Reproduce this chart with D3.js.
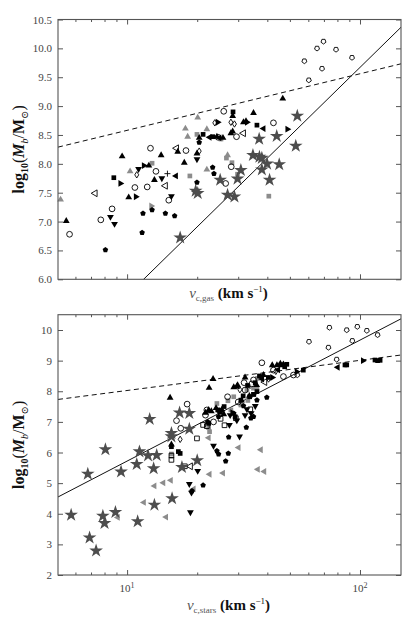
<!DOCTYPE html>
<html lang="en">
<head>
<meta charset="utf-8">
<title>Baryonic mass vs circular velocity</title>
<style>
  body { margin: 0; background: #fff; }
  svg text { font-family: "Liberation Serif", "DejaVu Serif", serif; }
</style>
</head>
<body>
<script src="https://cdn.jsdelivr.net/npm/d3@7/dist/d3.min.js"></script>
<script>
// ---- data: [v_c (km/s), log10(Mb/Msun)] ----
// upper panel, v_c from gas
var gasStar = [[16.9,6.72],[19.7,7.53],[20.1,7.49],[25.1,7.72],[27.0,7.46],[28.9,7.43],[29.8,7.74],[30.8,7.89],[34.7,8.15],[36.9,8.43],[37.0,8.12],[37.9,8.10],[37.9,7.90],[39.9,8.00],[40.9,7.72],[43.9,8.48],[45.0,7.99],[53.0,8.31],[53.8,8.83]];
var gasHeart = [[57.7,9.78],[60.3,9.45],[65.4,10.0],[68.7,9.65],[69.7,10.12],[78.9,9.98],[92.4,9.84]];
var gasGraySquare = [[12.8,8.01],[18.6,7.79],[19.95,8.51],[25.3,8.43],[26.7,8.10],[28.2,8.02],[29.8,7.82],[40.6,7.44]];
var gasGrayTriUp = [[5.18,7.38],[10.3,7.87],[17.8,8.61],[18.2,8.47],[20.1,8.80],[22.0,8.60],[22.0,7.90],[27.0,8.15]];
var gasGrayTriRight = [[12.7,7.27]];
var gasTriUp = [[5.48,7.01],[9.52,8.13],[10.16,7.42],[12.4,7.97],[13.1,7.72],[14.0,8.15],[16.5,8.21],[17.6,8.02],[19.95,8.18],[20.4,8.45],[24.3,8.47],[25.8,8.45],[27.9,8.53],[28.4,8.83],[28.4,8.56],[31.6,8.72],[32.4,8.74],[34.9,8.88],[46.6,9.13]];
var gasSquare = [[8.77,7.76],[21.2,8.51],[23.3,8.47],[28.5,8.90],[36.1,8.67]];
var gasCircle = [[5.66,6.78],[7.71,7.03],[8.62,7.22],[10.8,7.59],[12.2,7.60],[12.6,8.27],[13.3,7.87],[15.1,7.37],[17.9,8.23],[24.6,8.46],[26.0,8.91],[26.5,7.66],[28.0,7.95],[29.5,8.47],[42.5,8.71]];
var gasPentagon = [[8.07,6.51],[11.6,6.81],[11.7,7.14],[12.8,7.20],[14.6,7.14],[16.0,7.10],[19.95,7.68],[20.4,8.37],[23.3,7.94],[23.6,7.83]];
var gasTriDown = [[8.48,7.08],[8.83,6.96],[11.2,7.91],[14.1,7.75],[15.5,7.44],[19.95,8.08]];
var gasTriRight = [[9.36,7.66],[10.9,7.43],[11.8,7.97],[24.5,8.72],[32.7,8.72],[48.8,8.60]];
var gasTriLeft = [[16.2,7.79],[22.6,8.46],[38.5,8.61],[24.9,8.45]];
var gasOpenTriLeft = [[7.29,7.49],[16.3,8.27],[31.6,8.53],[14.6,7.62]];
var gasDiamond = [[11.0,7.81],[20.4,8.22],[27.9,8.72],[28.9,8.69],[23.8,8.71]];
var gasPlus = [[14.9,7.83]];

// lower panel, v_c from stars
var starStar = [[5.75,3.96],[6.78,5.30],[6.90,3.22],[7.36,2.79],[7.87,3.93],[8.00,3.69],[8.07,6.10],[8.91,4.05],[9.42,5.37],[11.1,3.75],[11.0,5.62],[11.3,6.03],[12.3,5.90],[12.5,7.09],[13.0,5.48],[13.4,5.91],[13.1,4.29],[15.5,6.63],[15.5,6.52],[15.6,4.50],[16.8,7.30],[17.2,5.52],[18.5,7.28],[18.5,6.77],[20.0,5.74]];
var starGrayTriLeft = [[9.12,3.88],[11.8,4.37],[13.1,4.91],[14.3,5.01],[15.4,5.09],[14.7,3.89],[19.3,4.81],[22.6,5.29],[25.8,5.33],[30.1,6.16],[37.5,6.09],[36.4,5.45],[38.8,5.38],[22.4,6.48]];
var starTriDown = [[18.7,4.05],[18.5,4.97],[20.1,5.40],[23.5,6.22],[30.4,6.52],[32.1,7.22],[34.1,7.28],[18.9,4.69],[29.6,7.05],[27.5,6.90],[27.7,7.22],[32.7,7.41],[35.5,7.52]];
var starPentagon = [[19.0,4.75],[21.2,4.93],[24.7,5.95],[26.5,5.72],[27.3,6.50],[27.2,5.97],[32.5,6.82],[34.0,7.12],[39.8,7.80],[24.3,6.05],[22.2,7.0],[24.7,7.17],[28.7,7.28],[31.6,7.52],[34.9,7.17],[36.1,7.71]];
var starTriUp = [[15.3,7.79],[22.5,8.11],[23.4,8.40],[15.5,6.26],[46.9,8.88],[29.6,8.15],[21.7,7.30],[23.0,7.35],[25.5,7.40],[31.0,7.70],[33.5,7.85],[36.0,8.20],[44.0,8.85],[45.5,8.90],[26.0,7.25],[22.4,7.39],[24.1,7.45],[28.7,8.13],[29.8,8.20],[32.1,8.45],[38.5,8.53],[42.0,8.85]];
var starCircle = [[16.3,7.04],[17.0,6.79],[18.1,7.58],[27.0,7.82],[31.8,8.28],[34.3,8.24],[37.9,8.93],[42.5,8.69],[46.9,8.48],[51.8,8.53],[23.5,7.00],[21.7,7.22],[25.0,7.35],[30.0,7.65],[22.0,7.39],[32.1,8.04],[34.9,8.37]];
var starOpenSquare = [[15.5,5.76],[19.95,6.46],[22.0,6.86],[26.2,6.89],[29.3,7.12],[33.8,7.41],[15.5,5.90],[17.7,5.55],[21.2,6.90],[25.2,7.10]];
var starGraySquare = [[15.5,5.95],[22.4,6.81],[22.6,6.68],[27.1,7.69],[27.9,7.39],[32.7,8.04],[36.3,8.42],[34.9,8.10],[25.0,7.30],[30.8,7.55],[33.0,7.70],[24.3,7.60],[28.7,7.82],[33.3,8.15],[36.1,8.10]];
var starSquare = [[15.5,6.19],[16.6,6.03],[16.9,5.97],[24.5,7.39],[29.1,7.17],[32.9,8.19],[35.5,8.28],[48.5,8.88],[57.1,8.69],[86.2,8.86],[87.7,8.86],[116,9.02],[119,9.00],[122,9.01],[22.4,6.95],[31.5,7.85],[35.0,7.90],[37.0,8.50],[47.5,8.80],[25.1,7.33],[26.1,7.50],[30.8,7.71],[33.6,7.82],[34.9,7.90],[36.1,7.99],[40.4,8.45],[45.7,8.86]];
var starTriRight = [[103,9.00],[53.5,8.64],[42.0,8.45],[28.3,7.30]];
var starTriLeft = [[80.2,8.78],[38.0,8.40],[44.5,8.70]];
var starHeart = [[60.4,9.62],[73.2,9.43],[73.9,10.08],[87.7,10.0],[92.7,9.65],[97.4,10.11],[107,9.98],[119,9.84],[79.4,9.04],[53.8,8.53]];
var starDiamond = [[16.9,6.43],[43.5,8.65],[40.5,8.40],[30.5,8.05]];
var starOpenTriLeft = [[18.7,5.55],[39.0,8.30]];

// fitted relations: [slope, intercept, dashed] for log M = slope * log v + intercept
var gasFits = [[3.95, 1.77, false], [0.98, 7.60, true]];
var starFits = [[3.95, 1.77, false], [0.985, 7.04, true]];

// axis ticks
var xMajor = [10, 100];
var xMinor = [6, 7, 8, 9, 20, 30, 40, 50, 60, 70, 80, 90];
var gasYTicks = [6.0, 6.5, 7.0, 7.5, 8.0, 8.5, 9.0, 9.5, 10.0, 10.5];
var starYTicks = [2, 3, 4, 5, 6, 7, 8, 9, 10];

// ---- layout ----
var width = 415, height = 623;
var left = 58, right = 401;
var gray = "#8c8c8c", starGray = "#4d4d4d", spine = "#555";

var svg = d3.select("body").append("svg").attr("width", width).attr("height", height);

var x = d3.scaleLog().domain([5.05, 150]).range([left, right]);

function shapePath(shape) {
  var s;
  switch (shape) {
    case "tri": return d3.symbol(d3.symbolTriangle, 20)();
    case "circle": return d3.symbol(d3.symbolCircle, 26)();
    case "square": return d3.symbol(d3.symbolSquare, 22)();
    case "star": return d3.symbol(d3.symbolStar, 58)();
    case "plus": return "M-3,0H3M0,-3V3";
    case "diamond": return "M0,-3.2L2,0L0,3.2L-2,0Z";
    case "pentagon":
      s = d3.range(5).map(function (i) { var a = -Math.PI / 2 + i * 2 * Math.PI / 5; return [2.9 * Math.cos(a), 2.9 * Math.sin(a)]; });
      return "M" + s.join("L") + "Z";
    case "heart":
      s = d3.range(5).map(function (i) { var a = Math.PI / 2 + i * 2 * Math.PI / 5; return [2.6 * Math.cos(a), 2.6 * Math.sin(a)]; });
      return "M" + s.join("L") + "Z";
  }
}

// series styles
function series(data, shape, fill, stroke, rot) {
  return { data: data, shape: shape, fill: fill, stroke: stroke, rot: rot || 0 };
}

var gasSeries = [
  series(gasGrayTriUp, "tri", gray, "none"),
  series(gasGraySquare, "square", gray, "none"),
  series(gasGrayTriRight, "tri", gray, "none", 90),
  series(gasCircle, "circle", "none", "#000"),
  series(gasHeart, "heart", "none", "#000"),
  series(gasOpenTriLeft, "tri", "none", "#000", -90),
  series(gasDiamond, "diamond", "none", "#000"),
  series(gasPlus, "plus", "none", "#000"),
  series(gasTriUp, "tri", "#000", "none"),
  series(gasSquare, "square", "#000", "none"),
  series(gasPentagon, "pentagon", "#000", "none"),
  series(gasTriDown, "tri", "#000", "none", 180),
  series(gasTriRight, "tri", "#000", "none", 90),
  series(gasTriLeft, "tri", "#000", "none", -90),
  series(gasStar, "star", starGray, "none")
];

var starSeries = [
  series(starGrayTriLeft, "tri", gray, "none", -90),
  series(starGraySquare, "square", gray, "none"),
  series(starCircle, "circle", "none", "#000"),
  series(starOpenSquare, "square", "none", "#000"),
  series(starHeart, "heart", "none", "#000"),
  series(starDiamond, "diamond", "none", "#000"),
  series(starOpenTriLeft, "tri", "none", "#000", -90),
  series(starTriUp, "tri", "#000", "none"),
  series(starSquare, "square", "#000", "none"),
  series(starPentagon, "pentagon", "#000", "none"),
  series(starTriDown, "tri", "#000", "none", 180),
  series(starTriRight, "tri", "#000", "none", 90),
  series(starTriLeft, "tri", "#000", "none", -90),
  series(starStar, "star", starGray, "none")
];

function addText(sel, parts) {
  parts.forEach(function (p) {
    var t = sel.append("tspan").text(p.t);
    if (p.dy) t.attr("dy", p.dy);
    if (p.size) t.attr("font-size", p.size);
    if (p.italic) t.attr("font-style", "italic");
    if (p.bold) t.attr("font-weight", "bold");
    if (p.fill) t.attr("fill", p.fill);
  });
}

function panel(id, top, bottom, yDomain, yTicks, fmt, allSeries, fits, showXLabels, xLabelSub) {
  var y = d3.scaleLinear().domain(yDomain).range([bottom, top]);
  var g = svg.append("g").attr("id", id);

  g.append("clipPath").attr("id", id + "-clip")
    .append("rect").attr("x", left).attr("y", top).attr("width", right - left).attr("height", bottom - top);

  // fit lines
  fits.forEach(function (f) {
    var ends = x.domain().map(function (v) { return { v: v, m: f[0] * Math.log10(v) + f[1] }; });
    g.append("path")
      .attr("clip-path", "url(#" + id + "-clip)")
      .attr("d", d3.line().x(function (d) { return x(d.v); }).y(function (d) { return y(d.m); })(ends))
      .attr("fill", "none")
      .attr("stroke", "#111")
      .attr("stroke-width", 1)
      .attr("stroke-dasharray", f[2] ? "5,3.5" : null);
  });

  // markers
  allSeries.forEach(function (s) {
    var p = shapePath(s.shape);
    g.append("g").selectAll("path").data(s.data).enter().append("path")
      .attr("d", p)
      .attr("transform", function (d) { return "translate(" + x(d[0]) + "," + y(d[1]) + ") rotate(" + s.rot + ")"; })
      .attr("fill", s.fill)
      .attr("stroke", s.stroke)
      .attr("stroke-width", s.stroke === "none" ? 0 : 0.9);
  });

  // axes with inward ticks on all sides
  function styleAxis(a) {
    a.select(".domain").remove();
    a.selectAll(".tick line").attr("stroke", spine);
  }
  [[d3.axisBottom, bottom], [d3.axisTop, top]].forEach(function (ax) {
    styleAxis(g.append("g").attr("transform", "translate(0," + ax[1] + ")")
      .call(ax[0](x).tickValues(xMajor).tickSize(-5).tickFormat("")));
    styleAxis(g.append("g").attr("transform", "translate(0," + ax[1] + ")")
      .call(ax[0](x).tickValues(xMinor).tickSize(-2.5).tickFormat("")));
  });

  var leftAx = g.append("g").attr("transform", "translate(" + left + ",0)")
    .call(d3.axisLeft(y).tickValues(yTicks).tickSize(-5).tickPadding(6).tickFormat(d3.format(fmt)));
  styleAxis(leftAx);
  leftAx.selectAll(".tick text").attr("font-size", 11).attr("fill", "#444")
    .style("font-family", "'Liberation Serif', serif");
  styleAxis(g.append("g").attr("transform", "translate(" + right + ",0)")
    .call(d3.axisRight(y).tickValues(yTicks).tickSize(-5).tickFormat("")));

  if (showXLabels) {
    g.selectAll(".xlab").data(xMajor).enter().append("text")
      .attr("class", "xlab")
      .attr("x", function (d) { return x(d); })
      .attr("y", bottom + 17)
      .attr("text-anchor", "middle")
      .attr("font-size", 11)
      .attr("fill", "#444")
      .each(function (d) {
        var t = d3.select(this);
        t.append("tspan").text("10");
        t.append("tspan").attr("dy", -4).attr("font-size", 8).text(Math.round(Math.log10(d)));
      });
  }

  // frame
  g.append("rect").attr("x", left).attr("y", top).attr("width", right - left).attr("height", bottom - top)
    .attr("fill", "none").attr("stroke", spine).attr("stroke-width", 1.1);

  // x label
  var xl = g.append("text")
    .attr("x", (left + right) / 2 - 1)
    .attr("y", showXLabels ? bottom + 35 : bottom + 19)
    .attr("text-anchor", "middle")
    .attr("font-size", 15);
  addText(xl, [
    { t: "v", italic: true, fill: "#555" },
    { t: "c," + xLabelSub, size: 9, dy: 3, fill: "#555" },
    { t: " (km s", bold: true, dy: -3, fill: "#111" },
    { t: "\u22121", size: 9, dy: -6, fill: "#111" },
    { t: ")", bold: true, dy: 6, fill: "#111" }
  ]);

  // y label
  var yl = g.append("text")
    .attr("transform", "translate(" + 24 + "," + ((top + bottom) / 2) + ") rotate(-90)")
    .attr("text-anchor", "middle")
    .attr("font-size", 16)
    .attr("fill", "#111");
  addText(yl, [
    { t: "log", bold: true },
    { t: "10", bold: true, size: 10, dy: 4 },
    { t: "(", dy: -4 },
    { t: "M", bold: true, italic: true },
    { t: "b", italic: true, size: 10, dy: 4 },
    { t: "/", dy: -4 },
    { t: "M", bold: true },
    { t: "\u2299", size: 10, dy: 4 },
    { t: ")", dy: -4 }
  ]);
}

panel("gas", 19.5, 279.3, [6, 10.5], gasYTicks, ".1f", gasSeries, gasFits, false, "gas");
panel("stars", 314.7, 575, [2, 10.5], starYTicks, "d", starSeries, starFits, true, "stars");
</script>
</body>
</html>
